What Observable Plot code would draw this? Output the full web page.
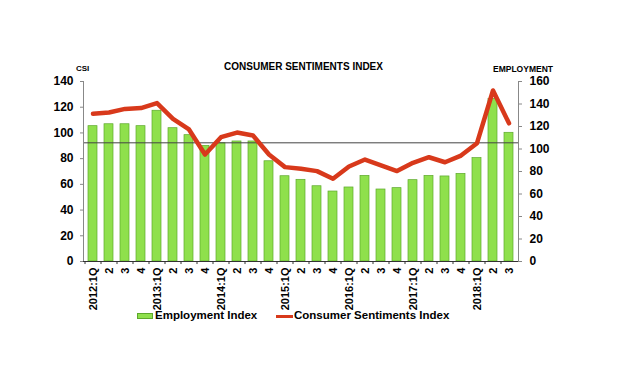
<!DOCTYPE html>
<html>
<head>
<meta charset="utf-8">
<script src="https://cdn.jsdelivr.net/npm/d3@7"></script>
<script src="https://cdn.jsdelivr.net/npm/@observablehq/plot@0.6"></script>
<style>
  body { margin: 0; background: #fff; font-family: Arial, "Liberation Sans", sans-serif; }
  #wrap { position: relative; width: 618px; height: 377px; overflow: hidden; }
  .lbl { position: absolute; font-weight: bold; line-height: 1; white-space: nowrap; color: #000; }
</style>
</head>
<body>
<div id="wrap">
  <div id="chart"></div>
  <div class="lbl" style="left:0;width:607px;text-align:center;top:61.5px;font-size:10px;">CONSUMER SENTIMENTS INDEX</div>
  <div class="lbl" style="left:76px;top:65px;font-size:8px;">CSI</div>
  <div class="lbl" style="left:493px;top:64.8px;font-size:8.5px;">EMPLOYMENT</div>
  <div style="position:absolute;left:137px;top:313px;width:14px;height:4px;background:#8fe04c;border:0.8px solid #5da82c;"></div>
  <div class="lbl" style="left:155px;top:310.3px;font-size:11.5px;">Employment Index</div>
  <div style="position:absolute;left:276px;top:315px;width:17px;height:3px;background:#d8391b;"></div>
  <div class="lbl" style="left:294px;top:310.3px;font-size:11.5px;">Consumer Sentiments Index</div>
</div>
<script>
// Categories (quarters) and their tick labels
const periods = [
  "2012Q1","2012Q2","2012Q3","2012Q4",
  "2013Q1","2013Q2","2013Q3","2013Q4",
  "2014Q1","2014Q2","2014Q3","2014Q4",
  "2015Q1","2015Q2","2015Q3","2015Q4",
  "2016Q1","2016Q2","2016Q3","2016Q4",
  "2017Q1","2017Q2","2017Q3","2017Q4",
  "2018Q1","2018Q2","2018Q3"
];
const tickLabels = [
  "2012:1Q","2","3","4",
  "2013:1Q","2","3","4",
  "2014:1Q","2","3","4",
  "2015:1Q","2","3","4",
  "2016:1Q","2","3","4",
  "2017:1Q","2","3","4",
  "2018:1Q","2","3"
];
// Employment Index (bars, right axis 0-160)
const employment = [
  120.3, 122, 122, 120.3,
  134, 118.5, 112.3, 102.8,
  105.1, 106.7, 106.7, 89.1,
  75.8, 72.6, 66.9, 62.2,
  65.8, 76.1, 64, 65.2,
  72.3, 76.1, 75.6, 77.9,
  91.9, 144.6, 114.4
];
// Consumer Sentiments Index (line, left axis 0-140)
const csi = [
  114.9, 115.9, 118.7, 119.3,
  123.2, 111, 102.7, 83.2,
  96.7, 100.3, 98, 83.2,
  73.4, 72.1, 70.3, 64.3,
  73.9, 79.3, 74.7, 70.3,
  76.8, 81.1, 77.2, 82.4,
  92, 133, 107.5
];
// Reference line (employment scale)
const refLine = [105.5];
// Axis tick values
const csiTicks = [0, 20, 40, 60, 80, 100, 120, 140];
const empTicks = [0, 20, 40, 60, 80, 100, 120, 140, 160];
const csiMax = 140, empMax = 160;

const data = periods.map((p, i) => ({period: p, label: tickLabels[i], emp: employment[i], csi: csi[i]}));
const toEmp = v => v * empMax / csiMax;

const chart = Plot.plot({
  width: 618,
  height: 377,
  marginLeft: 83,
  marginRight: 100,
  marginTop: 81,
  marginBottom: 116,
  style: {fontFamily: "Arial, 'Liberation Sans', sans-serif", fontWeight: "bold", fontSize: "12px", background: "transparent"},
  x: {domain: periods, paddingInner: 0.45, paddingOuter: 0.225, axis: null},
  y: {domain: [0, empMax], axis: null},
  marks: [
    Plot.barY(data, {x: "period", y: "emp", fill: "#8fe04c", stroke: "#5da82c", strokeWidth: 0.7}),
    Plot.ruleY(refLine, {stroke: "#444", strokeWidth: 1}),
    Plot.lineY(data, {x: "period", y: d => toEmp(d.csi), stroke: "#d8391b", strokeWidth: 4.5, strokeLinejoin: "round"}),
    Plot.frame({anchor: "left", stroke: "#888"}),
    Plot.frame({anchor: "right", stroke: "#888"}),
    Plot.ruleY([0], {stroke: "#333", strokeWidth: 1}),
    Plot.ruleX(periods, {x: d => d, y1: 0, y2: -2.7, dx: -8, stroke: "#333"}),
    Plot.axisY(csiTicks.map(toEmp), {anchor: "left", label: null, tickSize: 3, tickPadding: 7, stroke: "#888", fontSize: 12, fontWeight: "bold", tickFormat: d => Math.round(d * csiMax / empMax)}),
    Plot.axisY(empTicks, {anchor: "right", label: null, tickSize: 3, tickPadding: 8, stroke: "#888", fontSize: 12, fontWeight: "bold"}),
    Plot.axisX({anchor: "bottom", label: null, tickSize: 0, tickPadding: 6, tickRotate: -90, fontSize: 11, fontWeight: "bold", tickFormat: (d) => tickLabels[periods.indexOf(d)]})
  ]
});
document.getElementById("chart").append(chart);
</script>
</body>
</html>
